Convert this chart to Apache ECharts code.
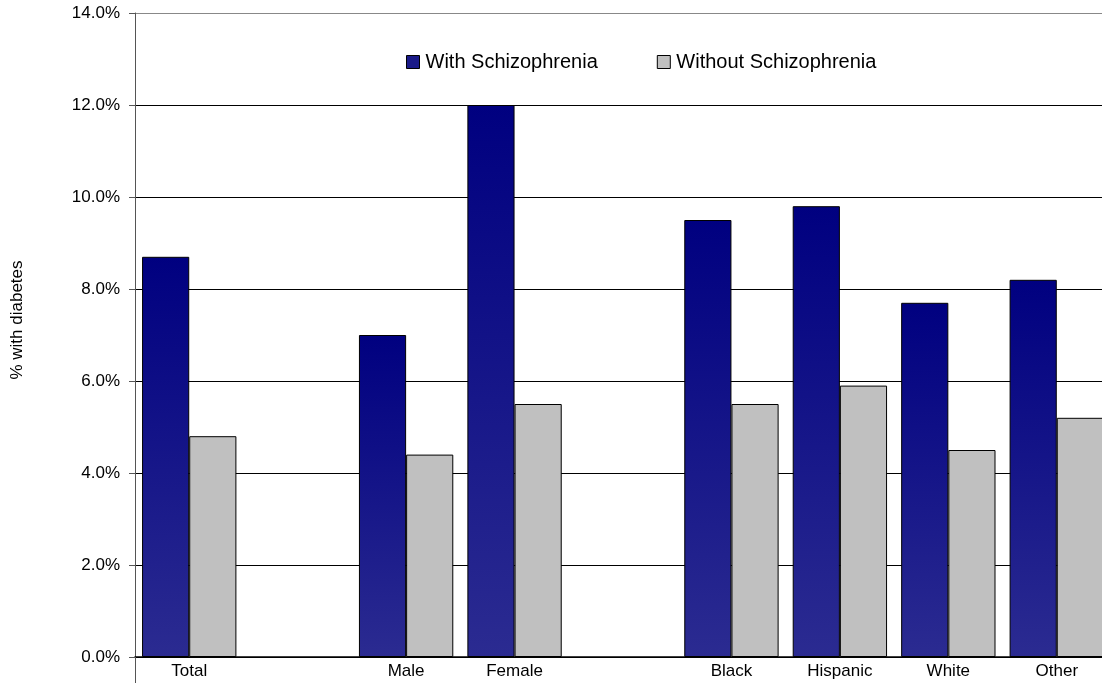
<!DOCTYPE html>
<html>
<head>
<meta charset="utf-8">
<script src="https://cdn.jsdelivr.net/npm/echarts@6/dist/echarts.min.js"></script>
<style>html,body{margin:0;padding:0;background:#fff}#c{width:1102px;height:683px}</style>
</head>
<body>
<div id="c"></div>
<script>
const categories = ['Total', '', 'Male', 'Female', '', 'Black', 'Hispanic', 'White', 'Other'];
const withSchizophrenia = [8.7, null, 7.0, 12.0, null, 9.5, 9.8, 7.7, 8.2];
const withoutSchizophrenia = [4.8, null, 4.4, 5.5, null, 5.5, 5.9, 4.5, 5.2];
const seriesNames = ['With Schizophrenia', 'Without Schizophrenia'];
const yAxisTitle = '% with diabetes';

const chart = echarts.init(document.getElementById('c'));
const font = 'Liberation Sans, Arial, sans-serif';
chart.setOption({
  animation: false,
  backgroundColor: '#fff',
  grid: { left: 135, width: 976, top: 13, height: 644, containLabel: false, outerBoundsMode: 'none' },
  legend: {
    left: 401, top: 47, icon: 'rect', itemWidth: 13, itemHeight: 13, itemGap: 59,
    textStyle: { fontFamily: font, fontSize: 20, color: '#000', padding: [0, 0, 0, 1] },
    data: [
      { name: seriesNames[0], itemStyle: { color: '#1a1a88', borderColor: '#000', borderWidth: 1 } },
      { name: seriesNames[1], itemStyle: { color: '#c0c0c0', borderColor: '#000', borderWidth: 1 } }
    ]
  },
  xAxis: {
    type: 'category', data: categories,
    axisLine: { lineStyle: { color: '#000', width: 1.5 } },
    axisTick: { show: true, interval: (i) => i === 0, length: 26, lineStyle: { color: '#555' } },
    axisLabel: { fontFamily: font, fontSize: 17, color: '#000', margin: 6, interval: 0 }
  },
  yAxis: {
    type: 'value', min: 0, max: 14, interval: 2,
    name: yAxisTitle, nameLocation: 'middle', nameRotate: 90, nameGap: 109,
    nameTextStyle: { fontFamily: font, fontSize: 17, color: '#000', padding: [0, 0, 0, 30] },
    axisLine: { show: true, lineStyle: { color: '#555' } },
    axisTick: { show: true, length: 6, lineStyle: { color: '#555' } },
    axisLabel: { fontFamily: font, fontSize: 17, color: '#000', margin: 15,
      formatter: (v) => v.toFixed(1) + '%' },
    splitLine: { lineStyle: { color: ['#000', '#000', '#000', '#000', '#000', '#000', '#000', '#888'] } }
  },
  series: [
    {
      name: seriesNames[0], type: 'bar', data: withSchizophrenia,
      barGap: '0%', barCategoryGap: '13%',
      itemStyle: {
        color: new echarts.graphic.LinearGradient(0, 0, 0, 1, [
          { offset: 0, color: '#000080' }, { offset: 1, color: '#2b2b91' }
        ]),
        borderColor: '#000', borderWidth: 1
      }
    },
    {
      name: seriesNames[1], type: 'bar', data: withoutSchizophrenia,
      barGap: '0%', barCategoryGap: '13%',
      itemStyle: { color: '#c0c0c0', borderColor: '#000', borderWidth: 1 }
    }
  ]
});
</script>
</body>
</html>
